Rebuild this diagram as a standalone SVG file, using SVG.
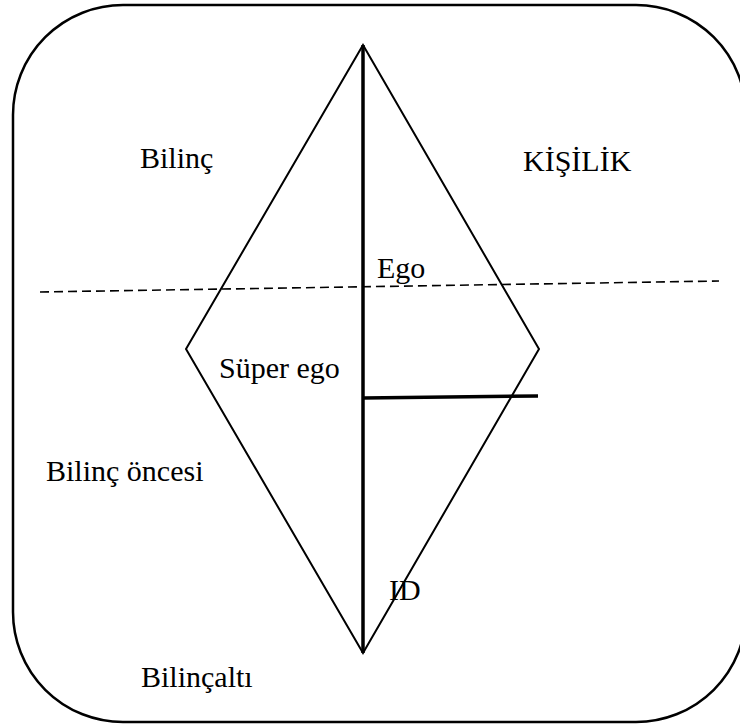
<svg xmlns="http://www.w3.org/2000/svg" width="740" height="724" viewBox="0 0 740 724">
<style>
.t{font-family:"Liberation Serif","Times New Roman",serif;font-size:30px;fill:#000}
.ln{stroke:#000;fill:none}
</style>
<rect width="740" height="724" fill="#fff"/>
<g id="frame"><rect class="ln" x="13" y="5" width="733" height="717" rx="110" ry="110" stroke-width="2.5"/></g>
<g id="diamond"><polygon class="ln" points="363,45 539,349 363,653 186,349" stroke-width="2"/></g>
<g id="connectors">
<line class="ln" x1="363" y1="45" x2="363" y2="653" stroke-width="3.5"/>
<line class="ln" x1="363" y1="398" x2="538" y2="396" stroke-width="3.5"/>
<line class="ln" x1="40" y1="292" x2="719" y2="281" stroke-width="1.6" stroke-dasharray="9,5"/>
</g>
<g id="labels">
<text class="t" x="140" y="168">Bilinç</text>
<text class="t" x="523" y="171">KİŞİLİK</text>
<text class="t" x="377" y="278">Ego</text>
<text class="t" x="219" y="378">Süper ego</text>
<text class="t" x="46" y="481">Bilinç öncesi</text>
<text class="t" x="389" y="600">ID</text>
<text class="t" x="141" y="687">Bilinçaltı</text>
</g>
</svg>
